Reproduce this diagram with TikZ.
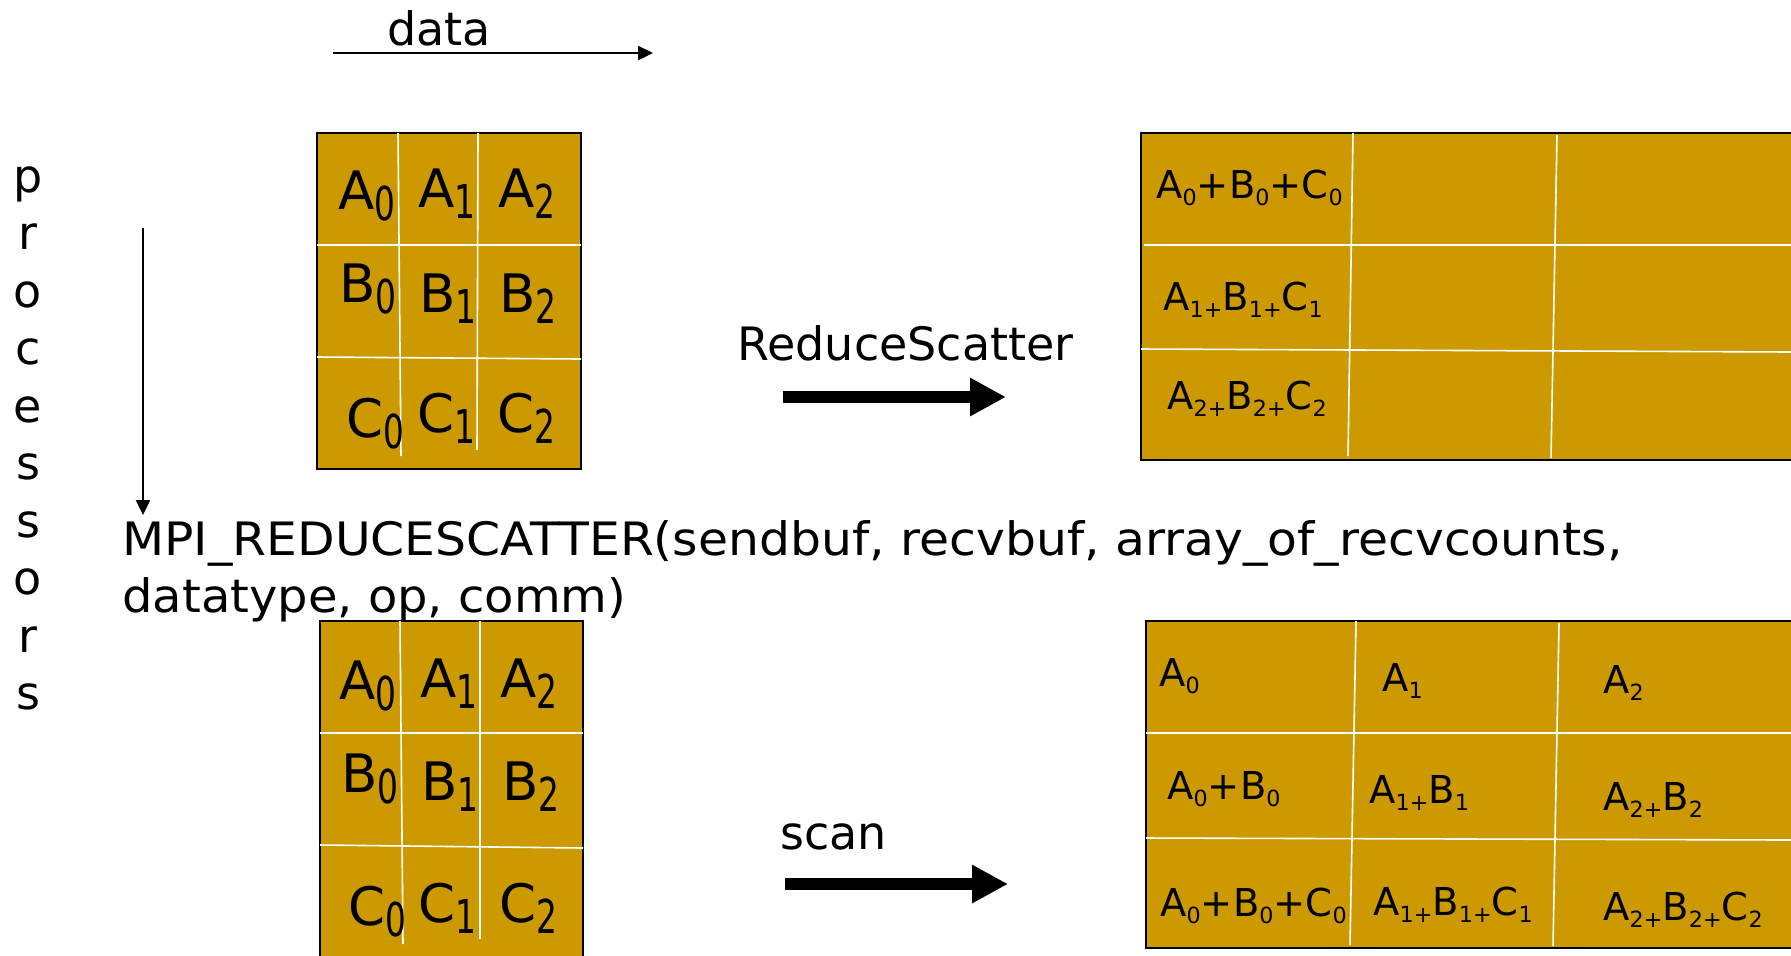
\documentclass[tikz,border=0pt]{standalone}
\usepackage{fontspec}
\setmainfont{DejaVu Sans}
\usetikzlibrary{arrows.meta}
\definecolor{gold}{HTML}{CC9900}
\newcommand\ls[1]{\raisebox{-5.5pt}{\scalebox{0.62}[0.88]{#1}}}
\newcommand\rs[1]{\raisebox{-3.9pt}{\scalebox{0.58}{#1}}}
\begin{document}
\begin{tikzpicture}[x=0.5pt,y=-0.5pt,
  lbl/.style={anchor=base west, inner sep=0pt, font=\fontsize{23pt}{27pt}\selectfont},
  lcell/.style={anchor=base west, inner sep=0pt, font=\fontsize{26.5pt}{30pt}\selectfont},
  rcell/.style={anchor=base west, inner sep=0pt, font=\fontsize{19.2pt}{22pt}\selectfont},
  wline/.style={draw=white, line width=0.8pt},
  matbox/.style={fill=gold, draw=black, line width=1pt},
  thinarrow/.style={line width=1.2pt, -{Triangle[length=7.5pt,width=7pt]}},
  fatarrow/.style={line width=6pt, -{Triangle[length=18pt,width=18pt]}}]
\useasboundingbox (0,0) rectangle (1791,955);
\clip (0,0) rectangle (1791,955);

% data arrow
\coordinate (d1) at (333,53);
\coordinate (d2) at (653,53);
\draw[thinarrow] (d1) -- (d2);
\node[lbl] (data) at (387,45) {data};

% processors
\foreach \c [count=\i from 0] in {p,r,o,c,e,s,s,o,r,s} {
  \node[lbl, anchor=base] (proc\i) at (28,{192+57.5*\i}) {\c};
}
\coordinate (v1) at (143,228);
\coordinate (v2) at (143,515);
\draw[thinarrow] (v1) -- (v2);

% top-left matrix
\path[matbox] (317,133) rectangle (581,469);
\draw[wline] (317,245) -- (581,245);
\draw[wline] (317,357) -- (581,359);
\draw[wline] (398,133) -- (401,456);
\draw[wline] (478,133) -- (477,450);
\node[lcell] (ta0) at (338,209) {A\ls0};
\node[lcell] (ta1) at (418,207) {A\ls1};
\node[lcell] (ta2) at (498,207) {A\ls2};
\node[lcell] (tb0) at (339,302) {B\ls0};
\node[lcell] (tb1) at (419,312) {B\ls1};
\node[lcell] (tb2) at (499,312) {B\ls2};
\node[lcell] (tc0) at (346,437) {C\ls0};
\node[lcell] (tc1) at (417,432) {C\ls1};
\node[lcell] (tc2) at (497,432) {C\ls2};

% ReduceScatter arrow
\node[lbl] (rsl) at (737,360) {ReduceScatter};
\coordinate (r1) at (783,397);
\coordinate (r2) at (1006,397);
\draw[fatarrow] (r1) -- (r2);

% top-right matrix
\path[matbox] (1141,133) rectangle (1800,460);
\draw[wline] (1144,245) -- (1791,245);
\draw[wline] (1141,349) -- (1791,352);
\draw[wline] (1353,133) -- (1348,456);
\draw[wline] (1557,135) -- (1551,458);
\node[rcell] (tr1) at (1156,198) {A\rs0+B\rs0+C\rs0};
\node[rcell] (tr2) at (1163,310) {A\rs{1+}B\rs{1+}C\rs1};
\node[rcell] (tr3) at (1167,409) {A\rs{2+}B\rs{2+}C\rs2};

% MPI call
\node[lbl] (mpi1) at (122,555) {\resizebox{750pt}{\height}{MPI\_REDUCESCATTER(sendbuf, recvbuf, array\_of\_recvcounts,}};
\node[lbl] (mpi2) at (122,612) {\resizebox{252pt}{\height}{datatype, op, comm)}};

% bottom-left matrix
\path[matbox] (320,621) rectangle (583,970);
\draw[wline] (320,733) -- (583,733);
\draw[wline] (320,845) -- (583,848);
\draw[wline] (400,621) -- (403,944);
\draw[wline] (480,621) -- (480,939);
\node[lcell] (ba0) at (339,699) {A\ls0};
\node[lcell] (ba1) at (420,697) {A\ls1};
\node[lcell] (ba2) at (500,697) {A\ls2};
\node[lcell] (bb0) at (341,792) {B\ls0};
\node[lcell] (bb1) at (421,800) {B\ls1};
\node[lcell] (bb2) at (502,800) {B\ls2};
\node[lcell] (bc0) at (348,925) {C\ls0};
\node[lcell] (bc1) at (418,922) {C\ls1};
\node[lcell] (bc2) at (499,922) {C\ls2};

% scan arrow
\node[lbl] (scanl) at (780,849) {scan};
\coordinate (s1) at (785,884);
\coordinate (s2) at (1008,884);
\draw[fatarrow] (s1) -- (s2);

% bottom-right matrix
\path[matbox] (1146,621) rectangle (1800,948);
\draw[wline] (1146,733) -- (1791,733);
\draw[wline] (1146,838) -- (1791,840);
\draw[wline] (1356,621) -- (1350,945);
\draw[wline] (1559,623) -- (1553,946);
\node[rcell] (br11) at (1159,686) {A\rs0};
\node[rcell] (br12) at (1382,691) {A\rs1};
\node[rcell] (br13) at (1603,693) {A\rs2};
\node[rcell] (br21) at (1167,799) {A\rs0+B\rs0};
\node[rcell] (br22) at (1369,803) {A\rs{1+}B\rs1};
\node[rcell] (br23) at (1603,810) {A\rs{2+}B\rs2};
\node[rcell] (br31) at (1160,916) {A\rs0+B\rs0+C\rs0};
\node[rcell] (br32) at (1373,915) {A\rs{1+}B\rs{1+}C\rs1};
\node[rcell] (br33) at (1603,920) {A\rs{2+}B\rs{2+}C\rs2};
\end{tikzpicture}
\end{document}
